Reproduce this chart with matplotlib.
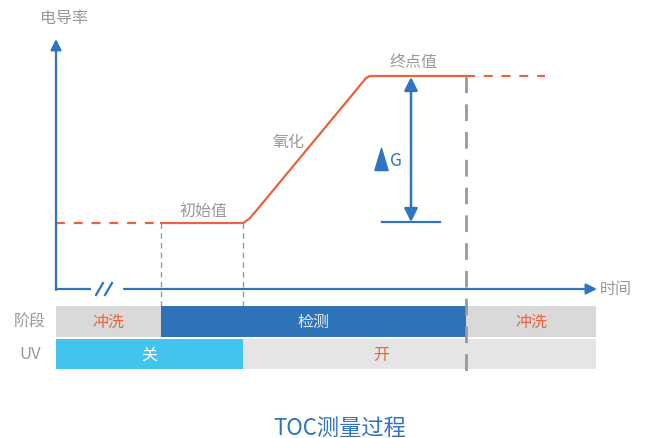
import matplotlib
matplotlib.use("Agg")
import matplotlib.pyplot as plt

plt.rcParams['font.family'] = ['Noto Sans CJK SC', 'DejaVu Sans']
plt.rcParams['font.weight'] = 'light'

# 坐标以图像像素为单位 (x 向右, y 向下)
AXIS_X0, AXIS_Y0 = 56, 290
AXIS_TOP, AXIS_RIGHT = 40, 597
BREAK = (91, 124)

# 电导率曲线
init_dash_x = [56, 161]
init_level = 224
solid_x = [161, 243, 249, 256, 362, 366, 370, 466]
solid_y = [224, 224, 220, 212, 84, 79, 77, 77]
end_dash_x = [466, 545]
end_level = 77

# 时间节点
t_marks = [161, 243, 466]

# 阶段条
stage_labels = ['冲洗', '检测', '冲洗']
stage_edges = [56, 161, 466, 596]
stage_colors = ['#d9d9d9', '#2e72b8', '#d9d9d9']
stage_text = ['#e8643c', '#e6eef8', '#e8643c']

uv_labels = ['关', '开']
uv_edges = [56, 243, 596]
uv_colors = ['#41c5ee', '#e5e5e5']
uv_text = ['#ffffff', '#e8643c']

BLUE = '#2f74c0'
ORANGE = '#e8643c'
GRAY = '#999999'
FS = 11.5

fig = plt.figure(figsize=(6.48, 4.39), dpi=100)
ax = fig.add_axes([0, 0, 1, 1])
ax.set_xlim(0, 648)
ax.set_ylim(439, 0)
ax.axis('off')

# 坐标轴
ax.annotate('', xy=(AXIS_X0, AXIS_TOP), xytext=(AXIS_X0, AXIS_Y0 + 1),
            arrowprops=dict(arrowstyle='-|>', color=BLUE, lw=1.6, mutation_scale=16,
                            shrinkA=0, shrinkB=0))
ax.plot([AXIS_X0, BREAK[0]], [AXIS_Y0, AXIS_Y0], color=BLUE, lw=1.6, solid_capstyle='butt')
ax.annotate('', xy=(AXIS_RIGHT, AXIS_Y0), xytext=(BREAK[1], AXIS_Y0),
            arrowprops=dict(arrowstyle='-|>', color=BLUE, lw=1.6, mutation_scale=16,
                            shrinkA=0, shrinkB=0))
for sx in [96, 105]:
    ax.plot([sx, sx + 7], [AXIS_Y0 + 6, AXIS_Y0 - 6], color=BLUE, lw=1.6)

# 时间节点虚线
ax.plot([t_marks[0]] * 2, [init_level, 338], color='#999999', lw=1, ls=(0, (4, 3)))
ax.plot([t_marks[1]] * 2, [init_level, 340], color='#999999', lw=1, ls=(0, (4, 3)))
ax.plot([t_marks[2]] * 2, [end_level, 372], color='#999999', lw=2, ls=(0, (6, 4)), zorder=5)

# 曲线
ax.plot(init_dash_x, [init_level] * 2, color=ORANGE, lw=1.6, ls=(0, (4, 4)))
ax.plot(solid_x, solid_y, color=ORANGE, lw=1.6)
ax.plot(end_dash_x, [end_level] * 2, color=ORANGE, lw=1.6, ls=(0, (4, 4)))

# ΔG
ax.annotate('', xy=(411, 78), xytext=(411, 223),
            arrowprops=dict(arrowstyle='<|-|>', color=BLUE, lw=1.8, mutation_scale=20,
                            shrinkA=0, shrinkB=0))
ax.plot([382, 440], [223, 223], color=BLUE, lw=1.6)
tri = [(-0.3, -0.5), (0.3, -0.5), (0, 0.5), (-0.3, -0.5)]
ax.plot([381], [160], marker=tri, markersize=16, color=BLUE, lw=0)
ax.text(390, 161, 'G', color=BLUE, fontsize=12.5, ha='left', va='center')

# 阶段条与 UV 条
for i, lab in enumerate(stage_labels):
    x0, x1 = stage_edges[i], stage_edges[i + 1]
    ax.fill_between([x0, x1], 307, 338, color=stage_colors[i], lw=0, zorder=3)
    ax.text((x0 + x1) / 2, 322.5, lab, color=stage_text[i], fontsize=FS,
            ha='center', va='center', zorder=6)
for i, lab in enumerate(uv_labels):
    x0, x1 = uv_edges[i], uv_edges[i + 1]
    ax.fill_between([x0, x1], 340, 370, color=uv_colors[i], lw=0, zorder=3)
    cx = (x0 + x1) / 2 if i == 0 else 381
    ax.text(cx, 355, lab, color=uv_text[i], fontsize=FS, ha='center', va='center', zorder=6)

# 文字
ax.text(40, 18, '电导率', color=GRAY, fontsize=FS, ha='left', va='center')
ax.text(600, 290, '时间', color=GRAY, fontsize=FS, ha='left', va='center')
ax.text(30, 322.5, '阶段', color=GRAY, fontsize=FS, ha='center', va='center')
ax.text(30, 355, 'UV', color=GRAY, fontsize=12, ha='center', va='center')
ax.text(203, 211, '初始值', color=GRAY, fontsize=FS, ha='center', va='center')
ax.text(289, 143, '氧化', color=GRAY, fontsize=FS, ha='center', va='center')
ax.text(413, 62, '终点值', color=GRAY, fontsize=FS, ha='center', va='center')
ax.text(340, 428, 'TOC测量过程', color=BLUE, fontsize=16, ha='center', va='center')

fig.savefig('out.png', dpi=100)
